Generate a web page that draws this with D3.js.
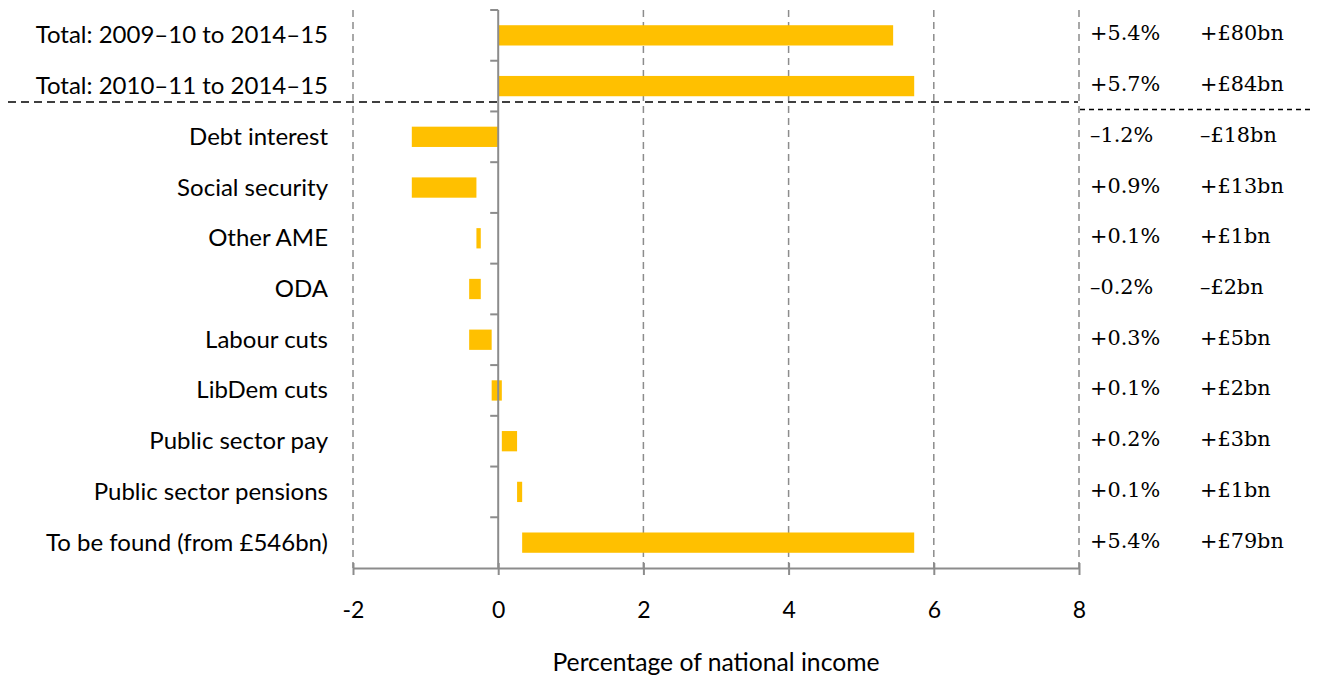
<!DOCTYPE html>
<html>
<head>
<meta charset="utf-8">
<script src="https://cdn.jsdelivr.net/npm/d3@7"></script>
<style>
  html, body { margin: 0; padding: 0; background: #fff; }
  svg { display: block; }
  .cat { font-family: Lato, "Open Sans", sans-serif; font-size: 24px; fill: #000; }
  .val { font-family: "DejaVu Serif", "Liberation Serif", serif; font-size: 20.8px; fill: #000; }
  .tick-label { font-family: Lato, "Open Sans", sans-serif; font-size: 23px; fill: #000; }
  .axis-title { font-family: Lato, "Open Sans", sans-serif; font-size: 24.7px; fill: #000; }
</style>
</head>
<body>
<svg id="chart" width="1319" height="677"></svg>
<script>
// Categories, top to bottom
const categories = [
  "Total: 2009–10 to 2014–15",
  "Total: 2010–11 to 2014–15",
  "Debt interest",
  "Social security",
  "Other AME",
  "ODA",
  "Labour cuts",
  "LibDem cuts",
  "Public sector pay",
  "Public sector pensions",
  "To be found (from £546bn)"
];

// Overall totals (% of national income)
const totals = [5.44, 5.73];

// Step changes for the waterfall rows (% of national income)
const changes = [-1.19, 0.89, 0.06, -0.16, 0.31, 0.14, 0.21, 0.07, 5.40];

// Text columns on the right
const pctLabels = ["+5.4%", "+5.7%", "–1.2%", "+0.9%", "+0.1%", "–0.2%", "+0.3%", "+0.1%", "+0.2%", "+0.1%", "+5.4%"];
const bnLabels  = ["+£80bn", "+£84bn", "–£18bn", "+£13bn", "+£1bn", "–£2bn", "+£5bn", "+£2bn", "+£3bn", "+£1bn", "+£79bn"];

const xTicks = [-2, 0, 2, 4, 6, 8];
const xTitle = "Percentage of national income";

// Build bar extents: totals start at zero, changes run cumulatively
const bars = [];
totals.forEach((t, i) => bars.push({ cat: categories[i], start: 0, end: t }));
let running = 0;
changes.forEach((c, i) => {
  bars.push({ cat: categories[totals.length + i], start: running, end: running + c });
  running += c;
});

const svg = d3.select("#chart");
const plotTop = 10, plotBottom = 568;

const x = d3.scaleLinear().domain([-2, 8]).range([353, 1079]);
const rows = d3.scaleBand().domain(categories).range([plotTop, plotBottom]).padding(0);
const y = d3.scaleBand().domain(categories).range([plotTop, plotBottom])
  .paddingInner(0.6).paddingOuter(0.3);

const gridColor = "#8c8c8c";

// Vertical dashed gridlines
svg.append("g").selectAll("line")
  .data(xTicks.filter(d => d !== 0))
  .join("line")
  .attr("x1", d => x(d)).attr("x2", d => x(d))
  .attr("y1", plotTop).attr("y2", plotBottom)
  .attr("stroke", gridColor).attr("stroke-width", 1.5)
  .attr("stroke-dasharray", "7,5");

// Bars
svg.append("g").selectAll("rect")
  .data(bars)
  .join("rect")
  .attr("x", d => x(Math.min(d.start, d.end)))
  .attr("width", d => Math.abs(x(d.end) - x(d.start)))
  .attr("y", d => y(d.cat))
  .attr("height", y.bandwidth())
  .attr("fill", "#FFC000");

// Category axis at zero with ticks on row boundaries
const yAxisG = svg.append("g").attr("transform", `translate(${x(0)},0)`);
yAxisG.append("line")
  .attr("x1", 0).attr("x2", 0).attr("y1", plotTop).attr("y2", plotBottom)
  .attr("stroke", gridColor).attr("stroke-width", 2);
const boundaries = categories.map(c => rows(c));
yAxisG.selectAll("line.tk")
  .data(boundaries)
  .join("line").attr("class", "tk")
  .attr("x1", -8).attr("x2", 0)
  .attr("y1", d => d).attr("y2", d => d)
  .attr("stroke", gridColor).attr("stroke-width", 2);

// Category labels
svg.append("g").selectAll("text")
  .data(categories)
  .join("text")
  .attr("class", "cat")
  .attr("x", 328)
  .attr("y", d => rows(d) + rows.bandwidth() / 2 - 1.5)
  .attr("text-anchor", "end")
  .attr("dominant-baseline", "central")
  .text(d => d);

// Value axis along the bottom
const xAxis = d3.axisBottom(x).tickValues(xTicks).tickSize(0).tickFormat(d3.format("d"));
const xAxisG = svg.append("g").attr("transform", `translate(0,${plotBottom})`).call(xAxis);
xAxisG.select(".domain").attr("stroke", gridColor).attr("stroke-width", 2);
xAxisG.selectAll(".tick line").remove();
xAxisG.selectAll(".tick").append("line")
  .attr("y1", -5).attr("y2", 7)
  .attr("stroke", gridColor).attr("stroke-width", 2);
xAxisG.selectAll(".tick text")
  .attr("class", "tick-label")
  .attr("y", 43)
  .attr("dy", "0.32em")
  .text(d => d < 0 ? "-" + Math.abs(d) : d);

// Axis title
svg.append("text")
  .attr("class", "axis-title")
  .attr("x", 716).attr("y", 661)
  .attr("text-anchor", "middle")
  .attr("dominant-baseline", "central")
  .text(xTitle);

// Separator between totals and components
svg.append("line")
  .attr("x1", 8).attr("x2", 1078).attr("y1", 102).attr("y2", 102)
  .attr("stroke", "#000").attr("stroke-width", 1.5)
  .attr("stroke-dasharray", "8,5");
svg.append("line")
  .attr("x1", 1080).attr("x2", 1314).attr("y1", 109.5).attr("y2", 109.5)
  .attr("stroke", "#000").attr("stroke-width", 1.5)
  .attr("stroke-dasharray", "5,4");

// Right-hand value columns
const valG = svg.append("g");
valG.selectAll("text.pct")
  .data(categories)
  .join("text").attr("class", "val pct")
  .attr("x", 1090)
  .attr("y", d => rows(d) + rows.bandwidth() / 2 - 2)
  .attr("dominant-baseline", "central")
  .text((d, i) => pctLabels[i]);
valG.selectAll("text.bn")
  .data(categories)
  .join("text").attr("class", "val bn")
  .attr("x", 1200)
  .attr("y", d => rows(d) + rows.bandwidth() / 2 - 2)
  .attr("dominant-baseline", "central")
  .text((d, i) => bnLabels[i]);
</script>
</body>
</html>
